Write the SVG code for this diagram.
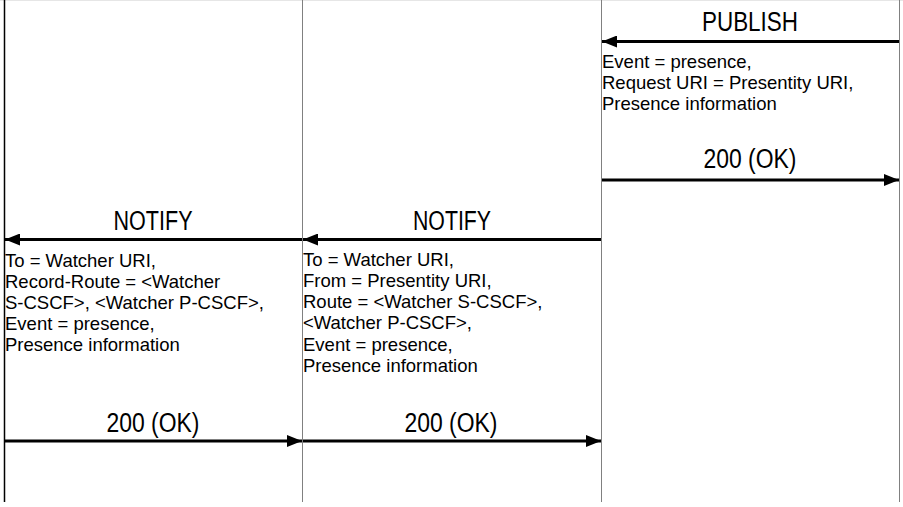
<svg xmlns="http://www.w3.org/2000/svg" width="903" height="507" viewBox="0 0 903 507">
<defs>
<marker id="ah" markerWidth="15" markerHeight="12" refX="15" refY="6" orient="auto" markerUnits="userSpaceOnUse">
<path d="M0,0 L15,6 L0,12 Z" fill="#000"/>
</marker>
<style>
.life{stroke:#808080;stroke-width:1;fill:none}
.lifeb{stroke:#000;stroke-width:1.5;fill:none}
.msg{stroke:#000;stroke-width:3;fill:none;marker-end:url(#ah)}
.lbl{font-family:"Liberation Sans",Arial,sans-serif;font-size:27px;fill:#000;text-anchor:middle}
.body{font-family:"Liberation Sans",Arial,sans-serif;font-size:18.5px;fill:#000}
</style>
</defs>
<rect width="903" height="507" fill="#fff"/>
<line x1="0" y1="0.5" x2="903" y2="0.5" stroke="#e6e6e6" stroke-width="1"/>
<g id="lifelines">
<g id="ue-watcher"><line class="lifeb" x1="4.5" y1="0" x2="4.5" y2="502"/></g>
<g id="p-cscf"><line class="life" x1="302.5" y1="0" x2="302.5" y2="502"/></g>
<g id="s-cscf"><line class="life" x1="601.5" y1="0" x2="601.5" y2="502"/></g>
<g id="presence-server"><line class="life" x1="899.5" y1="0" x2="899.5" y2="502"/></g>
</g>
<g id="connectors">
<line class="msg" x1="899" y1="41.5" x2="602" y2="41.5"/>
<line class="msg" x1="602" y1="180" x2="899" y2="180"/>
<line class="msg" x1="601" y1="239.5" x2="303" y2="239.5"/>
<line class="msg" x1="302" y1="239.5" x2="5" y2="239.5"/>
<line class="msg" x1="5" y1="441" x2="302" y2="441"/>
<line class="msg" x1="303" y1="441" x2="601" y2="441"/>
</g>
<g id="labels">
<text class="lbl" x="750" y="31" textLength="96" lengthAdjust="spacingAndGlyphs">PUBLISH</text>
<text class="lbl" x="750" y="168" textLength="93" lengthAdjust="spacingAndGlyphs">200 (OK)</text>
<text class="lbl" x="452" y="230" textLength="78" lengthAdjust="spacingAndGlyphs">NOTIFY</text>
<text class="lbl" x="153" y="230" textLength="79" lengthAdjust="spacingAndGlyphs">NOTIFY</text>
<text class="lbl" x="153" y="432" textLength="93" lengthAdjust="spacingAndGlyphs">200 (OK)</text>
<text class="lbl" x="451" y="432" textLength="93" lengthAdjust="spacingAndGlyphs">200 (OK)</text>
</g>
<g id="publish-params">
<text class="body" x="602" y="68">Event = presence,</text>
<text class="body" x="602" y="89">Request URI = Presentity URI,</text>
<text class="body" x="602" y="110">Presence information</text>
</g>
<g id="notify1-params">
<text class="body" x="303" y="266">To = Watcher URI,</text>
<text class="body" x="303" y="287">From = Presentity URI,</text>
<text class="body" x="303" y="308">Route = &lt;Watcher S-CSCF&gt;,</text>
<text class="body" x="303" y="329">&lt;Watcher P-CSCF&gt;,</text>
<text class="body" x="303" y="351">Event = presence,</text>
<text class="body" x="303" y="372">Presence information</text>
</g>
<g id="notify2-params">
<text class="body" x="5" y="267">To = Watcher URI,</text>
<text class="body" x="5" y="288">Record-Route = &lt;Watcher</text>
<text class="body" x="5" y="309">S-CSCF&gt;, &lt;Watcher P-CSCF&gt;,</text>
<text class="body" x="5" y="330">Event = presence,</text>
<text class="body" x="5" y="351">Presence information</text>
</g>
</svg>
